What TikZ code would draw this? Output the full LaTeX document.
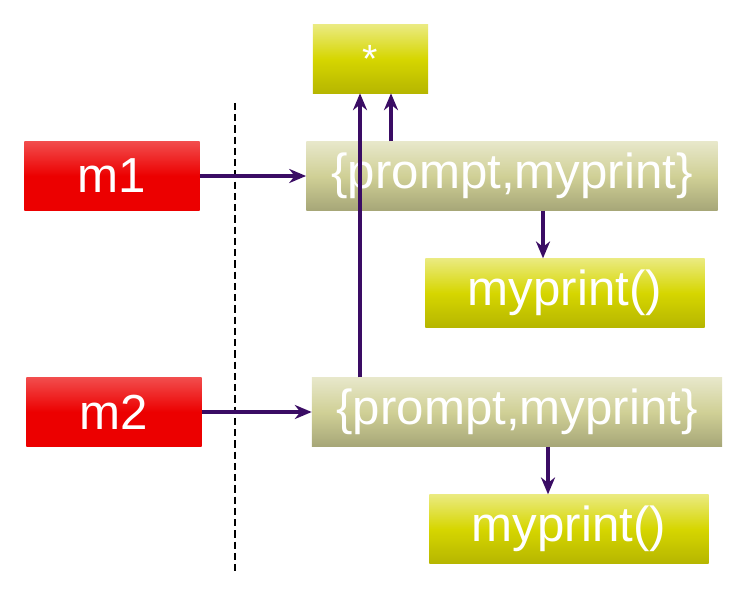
\documentclass[tikz,border=0pt]{standalone}
\usepackage{fontspec}
\setmainfont{Liberation Sans}
\usetikzlibrary{arrows.meta}
\definecolor{boxred}{RGB}{236,0,0}
\definecolor{boxyel}{RGB}{214,214,0}
\definecolor{boxkhaki}{RGB}{208,208,150}
\definecolor{arrowpurple}{RGB}{58,12,100}
\tikzset{
  box/.style = {minimum height=1.72cm, inner sep=0pt, text=white, font=\fontsize{35}{38}\selectfont, draw=none},
  redbox/.style = {box, top color=boxred!70!white, bottom color=boxred, middle color=boxred},
  yelbox/.style = {box, top color=boxyel!50!white, bottom color=boxyel!85!black, middle color=boxyel},
  khakibox/.style = {box, top color=boxkhaki!50!white, bottom color=boxkhaki!80!black, middle color=boxkhaki},
  link/.style = {draw=arrowpurple, line width=2.2pt, -{Stealth[length=12pt, width=10pt]}}
}
\begin{document}
\begin{tikzpicture}[x=0.025cm, y=-0.025cm]
\useasboundingbox (0,0) rectangle (744,604);

\node[yelbox, minimum width=2.88cm, minimum height=1.7cm, font=\fontsize{28}{30}\selectfont] (star) at (370.5,59) {*};

\node[redbox, minimum width=4.38cm] (m1) at (112,176) {m1};
\node[khakibox, minimum width=10.28cm] (pm1) at (512,176) {\{prompt,myprint\}};
\node[yelbox, minimum width=6.98cm] (mp1) at (565,293) {myprint()};

\node[redbox, minimum width=4.38cm] (m2) at (114,412) {m2};
\node[khakibox, minimum width=10.25cm] (pm2) at (517,412) {\{prompt,myprint\}};
\node[yelbox, minimum width=6.98cm] (mp2) at (569,529) {myprint()};

\draw[dash pattern=on 5pt off 3pt, thick] (235,103) -- (235,575);

\draw[link] (m1.east) -- (pm1.west);
\draw[link] (m2.east) -- (pm2.west);
\draw[link] (pm1.north -| 391,0) -- (star.south -| 391,0);
\draw[link] (pm2.north -| 360,0) -- (star.south -| 360,0);
\draw[link] (pm1.south -| 543,0) -- (mp1.north -| 543,0);
\draw[link] (pm2.south -| 548,0) -- (mp2.north -| 548,0);
\end{tikzpicture}
\end{document}
